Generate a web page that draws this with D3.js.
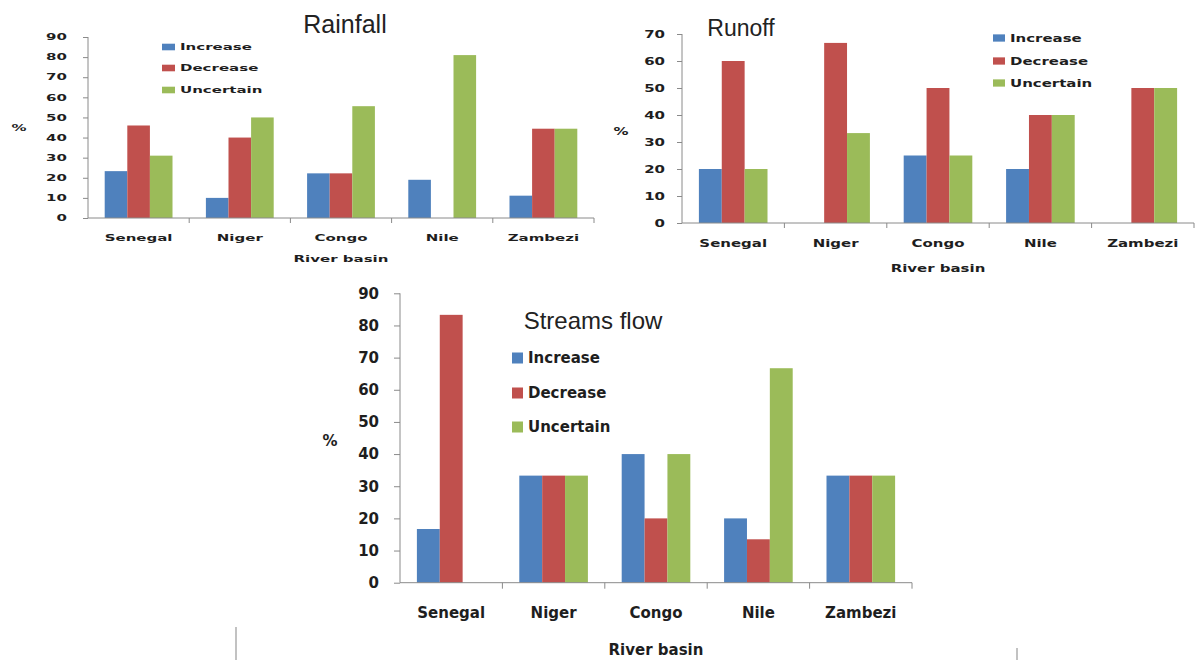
<!DOCTYPE html>
<html><head><meta charset="utf-8">
<script src="https://cdn.jsdelivr.net/npm/d3@7"></script>
<style>
html,body{margin:0;padding:0;background:#fff;}
svg{display:block;}
</style></head>
<body>
<svg id="chart" width="1195" height="660"></svg>
<script>
const categories = ["Senegal", "Niger", "Congo", "Nile", "Zambezi"];
const seriesNames = ["Increase", "Decrease", "Uncertain"];

const rainfallIncrease  = [23.3, 10, 22.2, 19, 11.1];
const rainfallDecrease  = [46, 40, 22.2, 0, 44.4];
const rainfallUncertain = [31, 50, 55.6, 81, 44.4];
const rainfallTicks = [0, 10, 20, 30, 40, 50, 60, 70, 80, 90];

const runoffIncrease  = [20, 0, 25, 20, 0];
const runoffDecrease  = [60, 66.7, 50, 40, 50];
const runoffUncertain = [20, 33.3, 25, 40, 50];
const runoffTicks = [0, 10, 20, 30, 40, 50, 60, 70];

const streamIncrease  = [16.7, 33.3, 40, 20, 33.3];
const streamDecrease  = [83.3, 33.3, 20, 13.5, 33.3];
const streamUncertain = [0, 33.3, 40, 66.7, 33.3];
const streamTicks = [0, 10, 20, 30, 40, 50, 60, 70, 80, 90];

const colors = ["#4F81BD", "#C0504D", "#9BBB59"];
const svg = d3.select("#chart");
const FONT = "'DejaVu Sans', Verdana, sans-serif";
const TXT = "#1e1e1e";
const AXIS = "#8a8a8a";

function label(g, x, y, text, vy, anchor) {
  const t = g.append("text")
    .attr("x", x).attr("y", y).attr("dy", "0.36em")
    .attr("text-anchor", anchor)
    .attr("font-family", FONT).attr("font-weight", "bold")
    .attr("font-size", 15 * vy).attr("fill", TXT)
    .text(text);
  if (vy !== 1) {
    const len = t.node().getComputedTextLength();
    t.attr("textLength", len / vy).attr("lengthAdjust", "spacingAndGlyphs");
  }
  return t;
}

function drawChart(cfg) {
  const g = svg.append("g");
  const series = [cfg.inc, cfg.dec, cfg.unc];
  const x = d3.scaleBand().domain(categories).range([cfg.x0, cfg.x1])
    .paddingInner(0.33).paddingOuter(0.165);
  const xs = d3.scaleBand().domain(seriesNames).range([0, x.bandwidth()]);
  const y = d3.scaleLinear().domain([0, d3.max(cfg.ticks)]).range([cfg.yb, cfg.yt]);

  // bars
  categories.forEach((c, i) => {
    seriesNames.forEach((s, j) => {
      const v = series[j][i];
      if (v <= 0) return;
      g.append("rect")
        .attr("x", x(c) + xs(s))
        .attr("y", y(v))
        .attr("width", xs.bandwidth())
        .attr("height", y(0) - y(v))
        .attr("fill", colors[j]);
    });
  });

  // y axis
  const ya = g.append("g").attr("transform", `translate(${cfg.x0},0)`)
    .call(d3.axisLeft(y).tickValues(cfg.ticks).tickSize(cfg.tick).tickFormat(""));
  ya.selectAll("path,line").attr("stroke", AXIS);
  ya.select(".domain").attr("d", `M${-0},${cfg.yb}V${cfg.yt}`);
  cfg.ticks.forEach(t => label(g, cfg.labelRight, y(t), String(t), cfg.vy, "end"));

  // x axis
  g.append("line").attr("x1", cfg.x0).attr("x2", cfg.x1)
    .attr("y1", cfg.yb).attr("y2", cfg.yb).attr("stroke", AXIS);
  const step = x.step();
  categories.forEach(c => {
    const bx = x(c) + x.bandwidth() + step * 0.165;
    g.append("line").attr("x1", bx).attr("x2", bx)
      .attr("y1", cfg.yb).attr("y2", cfg.yb + cfg.tick)
      .attr("stroke", AXIS);
  });
  categories.forEach(c => label(g, x(c) + x.bandwidth() / 2, cfg.catY, c, cfg.vy, "middle"));

  label(g, (cfg.x0 + cfg.x1) / 2, cfg.riverY, "River basin", cfg.vy, "middle");
  label(g, cfg.pctX, cfg.pctY, "%", cfg.vy, "middle");

  // legend
  seriesNames.forEach((s, j) => {
    const ly = cfg.legY[j];
    const h = 11 * cfg.vy;
    g.append("rect").attr("x", cfg.legX).attr("y", ly - h / 2)
      .attr("width", cfg.legW).attr("height", h).attr("fill", colors[j]);
    label(g, cfg.legX + cfg.legW + 5, ly, s, cfg.vy, "start");
  });

  // title
  g.append("text").attr("x", cfg.titleX).attr("y", cfg.titleY)
    .attr("text-anchor", "middle")
    .attr("font-family", "'Liberation Sans', Arial, sans-serif")
    .attr("font-size", cfg.titleSize).attr("fill", "#222")
    .text(cfg.title);
}

drawChart({
  title: "Rainfall", titleX: 345, titleY: 33, titleSize: 25,
  inc: rainfallIncrease, dec: rainfallDecrease, unc: rainfallUncertain, ticks: rainfallTicks,
  x0: 88, x1: 594, yb: 218, yt: 37, vy: 0.6, tick: 5,
  labelRight: 67, catY: 238, riverY: 259, pctX: 19, pctY: 128,
  legX: 162, legW: 13, legY: [47, 68, 90]
});

drawChart({
  title: "Runoff", titleX: 741, titleY: 36, titleSize: 23,
  inc: runoffIncrease, dec: runoffDecrease, unc: runoffUncertain, ticks: runoffTicks,
  x0: 682, x1: 1194, yb: 223, yt: 34, vy: 0.66, tick: 5,
  labelRight: 665, catY: 243, riverY: 268, pctX: 621, pctY: 131,
  legX: 993, legW: 12, legY: [38, 61, 83]
});

drawChart({
  title: "Streams flow", titleX: 593, titleY: 329, titleSize: 24,
  inc: streamIncrease, dec: streamDecrease, unc: streamUncertain, ticks: streamTicks,
  x0: 400, x1: 912, yb: 582.7, yt: 293.3, vy: 1, tick: 6,
  labelRight: 379, catY: 613, riverY: 650, pctX: 330, pctY: 441,
  legX: 512, legW: 11, legY: [358, 393, 427]
});

// slide border fragments
svg.append("line").attr("x1", 236).attr("x2", 236).attr("y1", 627).attr("y2", 660)
  .attr("stroke", "#999").attr("stroke-width", 1.2);
svg.append("line").attr("x1", 1017).attr("x2", 1017).attr("y1", 648).attr("y2", 660)
  .attr("stroke", "#999").attr("stroke-width", 1.2);
</script>
</body></html>
